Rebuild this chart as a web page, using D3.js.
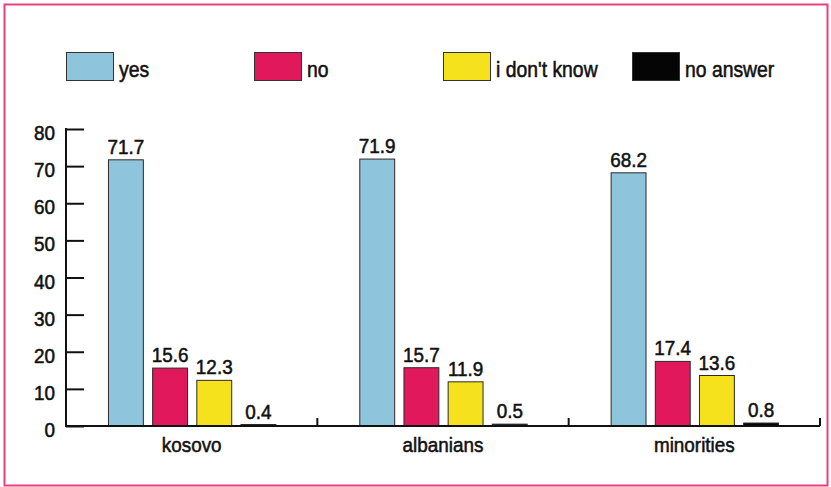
<!DOCTYPE html>
<html><head><meta charset="utf-8">
<script src="https://cdn.jsdelivr.net/npm/d3@7"></script>
<style>
html,body{margin:0;padding:0;background:#fff;}
svg{display:block;}
text{font-family:"Liberation Sans",Arial,sans-serif;fill:#111;stroke:#111;stroke-width:0.55;}
</style></head>
<body>
<svg id="c" width="831" height="487"></svg>
<script>
const categories = ["kosovo", "albanians", "minorities"];
const seriesNames = ["yes", "no", "i don't know", "no answer"];
const yesValues = [71.7, 71.9, 68.2];
const noValues = [15.6, 15.7, 17.4];
const dontKnowValues = [12.3, 11.9, 13.6];
const noAnswerValues = [0.4, 0.5, 0.8];
const yTicks = [0, 10, 20, 30, 40, 50, 60, 70, 80];
const colors = ["#8fc4dd", "#e2185c", "#f6e21c", "#050505"];

const seriesValues = [yesValues, noValues, dontKnowValues, noAnswerValues];
const data = categories.map((c, i) => ({
  cat: c,
  vals: seriesNames.map((s, j) => ({key: s, idx: j, v: seriesValues[j][i]}))
}));

function place(sel, fx, fy, sx) {
  return sel.attr("x", 0).attr("y", 0)
    .attr("transform", (d, i) => `translate(${fx(d, i)},${fy(d, i)}) scale(${sx},1)`);
}

const svg = d3.select("#c");
// border
svg.append("rect").attr("x", 4.5).attr("y", 4.5).attr("width", 823).attr("height", 481)
  .attr("fill", "none").attr("stroke", "#e8407c").attr("stroke-width", 2);

const x0 = d3.scaleBand().domain(categories).range([66, 820]).padding(0);
const x1 = d3.scaleBand().domain(seriesNames).range([0, x0.bandwidth()])
  .paddingInner(0.21).paddingOuter(0.95);
const y = d3.scaleLinear().domain([0, 80]).range([426, 129]);

// legend
const legendX = [66, 254, 443, 632];
const lg = svg.append("g");
seriesNames.forEach((s, i) => {
  lg.append("rect").attr("x", legendX[i] + 0.5).attr("y", 52.5).attr("width", 47).attr("height", 28)
    .attr("fill", colors[i]).attr("stroke", "#333").attr("stroke-width", 1);
});
place(lg.selectAll("text").data(seriesNames).join("text"), (d, i) => legendX[i] + 53, () => 77, 0.88)
  .attr("font-size", 22).text(d => d);

// bars
const groups = svg.append("g").selectAll("g").data(data).join("g")
  .attr("transform", d => `translate(${x0(d.cat)},0)`);
groups.selectAll("rect").data(d => d.vals).join("rect")
  .attr("x", d => x1(d.key) + 0.5)
  .attr("y", d => y(d.v))
  .attr("width", x1.bandwidth())
  .attr("height", d => y(0) - y(d.v))
  .attr("fill", d => colors[d.idx])
  .attr("stroke", "#2a2a2a").attr("stroke-width", 1);
place(groups.selectAll("text.val").data(d => d.vals).join("text").attr("class", "val"),
    d => x1(d.key) + x1.bandwidth() / 2 + 0.5, d => y(d.v) - 6, 0.9)
  .attr("text-anchor", "middle").attr("font-size", 21)
  .text(d => d3.format(".1f")(d.v));

// y axis
const yAxis = d3.axisRight(y).tickValues(yTicks).tickSize(18).tickFormat("");
const ya = svg.append("g").attr("transform", "translate(66,0)").call(yAxis);
ya.select(".domain").remove();
ya.selectAll(".tick line").attr("stroke", "#111").attr("stroke-width", 2);
svg.append("line").attr("x1", 66).attr("x2", 66).attr("y1", y(80) - 1).attr("y2", y(0) + 1)
  .attr("stroke", "#111").attr("stroke-width", 2);
place(svg.append("g").selectAll("text").data(yTicks).join("text"), () => 55, d => y(d) + 11, 0.9)
  .attr("text-anchor", "end").attr("font-size", 21)
  .text(d => d);

// x axis
const xAxis = d3.axisBottom(x0).tickSize(0).tickFormat("");
const xa = svg.append("g").attr("transform", `translate(0,${y(0)})`).call(xAxis);
xa.select(".domain").attr("stroke", "#111").attr("stroke-width", 2).attr("d", `M66,0H820`);
xa.selectAll(".tick").remove();
place(svg.append("g").selectAll("text").data(categories).join("text"),
    d => x0(d) + x0.bandwidth() / 2, () => y(0) + 26, 0.9)
  .attr("text-anchor", "middle").attr("font-size", 21).text(d => d);
// separator ticks
svg.append("g").selectAll("line").data(categories).join("line")
  .attr("x1", d => x0(d) + x0.bandwidth()).attr("x2", d => x0(d) + x0.bandwidth())
  .attr("y1", y(0) - 8).attr("y2", y(0))
  .attr("stroke", "#111").attr("stroke-width", 2);
</script>
</body></html>
